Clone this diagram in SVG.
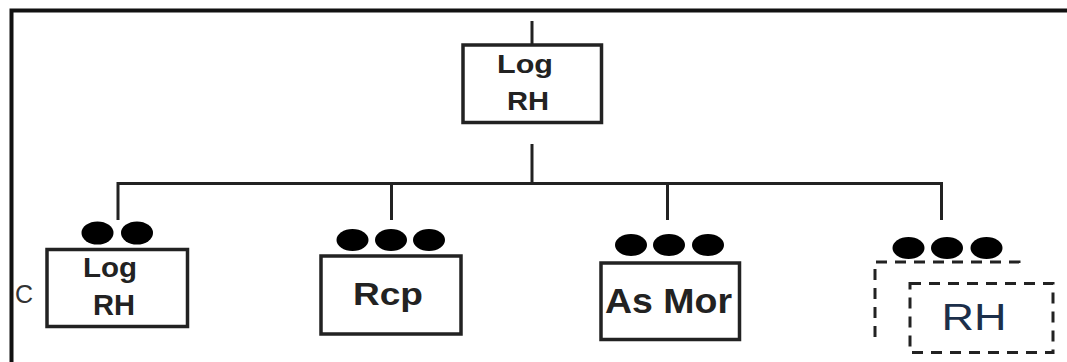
<svg xmlns="http://www.w3.org/2000/svg" width="1067" height="362" viewBox="0 0 1067 362">
  <style>
    .frame { fill: none; stroke: #111; stroke-width: 4; }
    .wire { fill: none; stroke: #222; stroke-width: 3; }
    .box { fill: #fff; stroke: #222; stroke-width: 3.5; }
    .dash { fill: none; stroke: #222; stroke-width: 3; stroke-dasharray: 11 8; }
    .dashbox { fill: #fff; stroke: #222; stroke-width: 3; stroke-dasharray: 11 8; }
    .dot { fill: #000; }
    .lbl { font-family: "Liberation Sans", Arial, sans-serif; font-weight: bold; fill: #222; text-anchor: middle; }
    .side { font-family: "Liberation Sans", Arial, sans-serif; font-size: 25px; fill: #333; text-anchor: middle; }
    .rh { font-family: "Liberation Sans", Arial, sans-serif; font-size: 36px; fill: #1c2f4a; text-anchor: middle; }
  </style>

  <rect width="1067" height="362" fill="#fff"/>

  <!-- outer frame: top and left edges -->
  <path class="frame" d="M11.5 362 V10.5 H1067"/>

  <!-- connectors -->
  <g id="connectors">
    <line class="wire" x1="532" y1="21" x2="532" y2="45"/>
    <line class="wire" x1="532" y1="144" x2="532" y2="183.5"/>
    <path class="wire" d="M118 220 V183.5 H941.5 V220"/>
    <line class="wire" x1="391.5" y1="183.5" x2="391.5" y2="220"/>
    <line class="wire" x1="667.5" y1="183.5" x2="667.5" y2="220"/>
  </g>

  <!-- root node -->
  <g id="root">
    <rect class="box" x="463" y="45" width="138.5" height="77.5"/>
    <text class="lbl" x="525" y="73" font-size="26" textLength="56" lengthAdjust="spacingAndGlyphs">Log</text>
    <text class="lbl" x="528" y="110" font-size="26" textLength="42" lengthAdjust="spacingAndGlyphs">RH</text>
  </g>

  <!-- child: Log RH -->
  <g id="log-rh">
    <ellipse class="dot" cx="97.5" cy="233" rx="16" ry="11.5"/>
    <ellipse class="dot" cx="137" cy="233" rx="16" ry="11.5"/>
    <rect class="box" x="47" y="249.5" width="140.5" height="77"/>
    <text class="lbl" x="110" y="277" font-size="28" textLength="54" lengthAdjust="spacingAndGlyphs">Log</text>
    <text class="lbl" x="114" y="315" font-size="29" textLength="42" lengthAdjust="spacingAndGlyphs">RH</text>
  </g>
  <text class="side" x="24" y="303">C</text>

  <!-- child: Rcp -->
  <g id="rcp">
    <ellipse class="dot" cx="352.5" cy="240" rx="16" ry="11"/>
    <ellipse class="dot" cx="391" cy="240" rx="16" ry="11"/>
    <ellipse class="dot" cx="429" cy="240" rx="16" ry="11"/>
    <rect class="box" x="321" y="256" width="140" height="78"/>
    <text class="lbl" x="388" y="305" font-size="31" textLength="70" lengthAdjust="spacingAndGlyphs">Rcp</text>
  </g>

  <!-- child: As Mor -->
  <g id="as-mor">
    <ellipse class="dot" cx="631" cy="245" rx="16" ry="11"/>
    <ellipse class="dot" cx="669" cy="245" rx="16" ry="11"/>
    <ellipse class="dot" cx="708" cy="245" rx="16" ry="11"/>
    <rect class="box" x="601" y="263" width="138.5" height="76.5"/>
    <text class="lbl" x="668.5" y="313" font-size="35" textLength="127" lengthAdjust="spacingAndGlyphs">As Mor</text>
  </g>

  <!-- child: RH (dashed, stacked) -->
  <g id="rh">
    <ellipse class="dot" cx="908.5" cy="248" rx="16" ry="11"/>
    <ellipse class="dot" cx="947" cy="248" rx="16" ry="11"/>
    <ellipse class="dot" cx="986.5" cy="248" rx="16" ry="11"/>
    <path class="dash" d="M875 337 V262 H1019 V267"/>
    <rect class="dashbox" x="910" y="283.5" width="143" height="69"/>
    <text class="rh" x="974" y="330" textLength="65" lengthAdjust="spacingAndGlyphs">RH</text>
  </g>
</svg>
